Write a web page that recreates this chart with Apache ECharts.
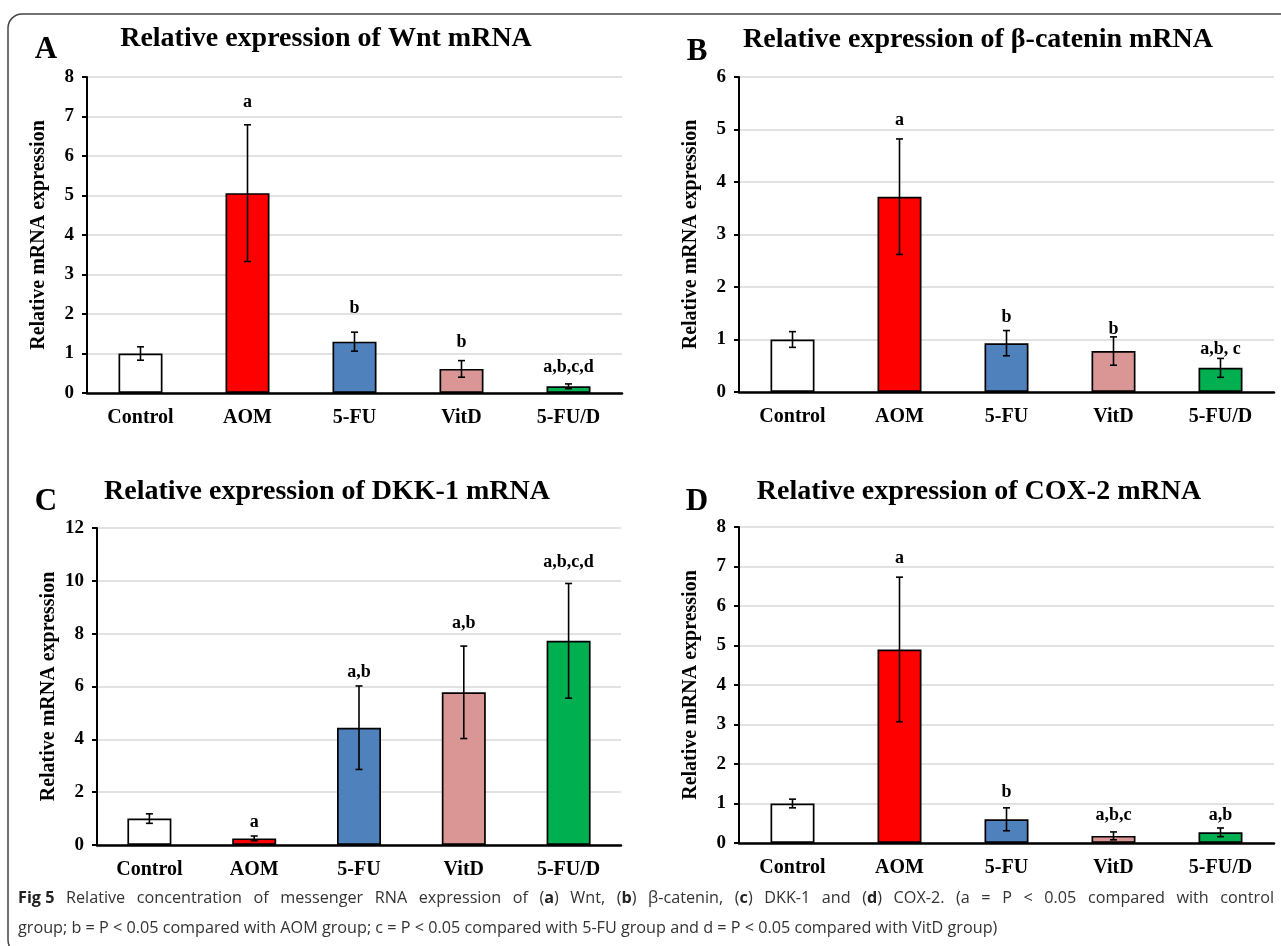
<!DOCTYPE html>
<html>
<head>
<meta charset="utf-8">
<script src="https://cdn.jsdelivr.net/npm/echarts@6/dist/echarts.min.js"></script>
<style>
html,body{margin:0;padding:0;background:#fff;}
#chart{width:1281px;height:946px;}
</style>
</head>
<body>
<div id="chart"></div>
<script>
// ---- data ----
const categories = ['Control', 'AOM', '5-FU', 'VitD', '5-FU/D'];
const barColors = ['#FFFFFF', '#FF0000', '#4F81BD', '#D99694', '#00B050'];

// A: Wnt
const wntMean = [1.00, 5.06, 1.30, 0.61, 0.17];
const wntErr  = [0.17, 1.73, 0.24, 0.21, 0.06];
const wntSig  = ['', 'a', 'b', 'b', 'a,b,c,d'];
const wntSigY = [null, 7.37, 2.15, 1.29, 0.66];
const wntTicks = {min: 0, max: 8, interval: 1};

// B: beta-catenin
const catMean = [1.00, 3.72, 0.93, 0.78, 0.46];
const catErr  = [0.15, 1.10, 0.24, 0.27, 0.18];
const catSig  = ['', 'a', 'b', 'b', 'a,b, c'];
const catSigY = [null, 5.18, 1.43, 1.20, 0.82];
const catTicks = {min: 0, max: 6, interval: 1};

// C: DKK-1
const dkkMean = [1.00, 0.25, 4.44, 5.78, 7.73];
const dkkErr  = [0.18, 0.09, 1.58, 1.75, 2.17];
const dkkSig  = ['', 'a', 'a,b', 'a,b', 'a,b,c,d'];
const dkkSigY = [null, 0.87, 6.55, 8.40, 10.70];
const dkkTicks = {min: 0, max: 12, interval: 2};

// D: COX-2
const coxMean = [1.00, 4.90, 0.60, 0.18, 0.27];
const coxErr  = [0.11, 1.83, 0.29, 0.10, 0.11];
const coxSig  = ['', 'a', 'b', 'a,b,c', 'a,b'];
const coxSigY = [null, 7.20, 1.27, 0.71, 0.71];
const coxTicks = {min: 0, max: 8, interval: 1};

const titles = ['Relative expression of Wnt mRNA', 'Relative expression of \u03b2-catenin mRNA',
                'Relative expression of DKK-1 mRNA', 'Relative expression of COX-2 mRNA'];
const panelLetters = ['A', 'B', 'C', 'D'];
const yName = 'Relative mRNA expression';

const captionLine1 = '{b|Fig 5} Relative concentration of messenger RNA expression of ({b|a}) Wnt, ({b|b}) \u03b2-catenin, ({b|c}) DKK-1 and ({b|d}) COX-2. (a = P < 0.05 compared with control';
const captionLine2 = 'group; b = P < 0.05 compared with AOM group; c = P < 0.05 compared with 5-FU group and d = P < 0.05 compared with VitD group)';

// ---- layout / style ----
const SERIF = '"Liberation Serif", "Times New Roman", serif';
const SANS = '"Open Sans"';
const CAP_SIZE = 16.2;
const grids = [
  {left: 87, top: 77, width: 535, height: 316},
  {left: 739, top: 77, width: 535, height: 315},
  {left: 97, top: 528, width: 524, height: 317},
  {left: 739, top: 527, width: 535, height: 316}
];
const titlePos = [[326, 39], [978, 40], [327, 492], [979, 492]];
const letterPos = [[46, 50], [697, 52], [46, 502], [697, 502]];

const panels = [
  [wntMean, wntErr, wntSig, wntSigY, wntTicks],
  [catMean, catErr, catSig, catSigY, catTicks],
  [dkkMean, dkkErr, dkkSig, dkkSigY, dkkTicks],
  [coxMean, coxErr, coxSig, coxSigY, coxTicks]
];

function errRenderer(sigs, sigYs) {
  return function (params, api) {
    const i = params.dataIndex;
    const x = api.value(0), m = api.value(1), e = api.value(2);
    const top = api.coord([x, m + e]);
    const bot = api.coord([x, m - e]);
    const cap = 3.5;
    const st = {stroke: '#000', lineWidth: 1.6};
    const children = [
      {type: 'line', shape: {x1: top[0], y1: top[1], x2: bot[0], y2: bot[1]}, style: st},
      {type: 'line', shape: {x1: top[0] - cap, y1: top[1], x2: top[0] + cap, y2: top[1]}, style: st},
      {type: 'line', shape: {x1: bot[0] - cap, y1: bot[1], x2: bot[0] + cap, y2: bot[1]}, style: st}
    ];
    if (sigs[i]) {
      const p = api.coord([x, sigYs[i]]);
      children.push({type: 'text', x: p[0], y: p[1],
        style: {text: sigs[i], align: 'center', verticalAlign: 'middle',
                font: 'bold 18px ' + SERIF, fill: '#000'}});
    }
    return {type: 'group', children: children};
  };
}

const xAxes = [], yAxes = [], series = [], graphics = [];
panels.forEach(function (p, k) {
  const [mean, err, sig, sigY, ticks] = p;
  xAxes.push({
    type: 'category', gridIndex: k, data: categories,
    axisLine: {lineStyle: {color: '#000', width: 2.5}},
    axisTick: {show: false},
    axisLabel: {color: '#000', fontFamily: SERIF, fontWeight: 'bold', fontSize: 20, margin: 15}
  });
  yAxes.push({
    type: 'value', gridIndex: k, min: ticks.min, max: ticks.max, interval: ticks.interval,
    name: yName, nameLocation: 'middle', nameGap: 38,
    nameTextStyle: {color: '#000', fontFamily: SERIF, fontWeight: 'bold', fontSize: 20},
    axisLine: {show: true, lineStyle: {color: '#000', width: 2}},
    axisTick: {show: true, length: 5, lineStyle: {color: '#000', width: 2}},
    axisLabel: {color: '#000', fontFamily: SERIF, fontWeight: 'bold', fontSize: 19, margin: 13},
    splitLine: {show: true, lineStyle: {color: '#d9d9d9', width: 1.5}}
  });
  series.push({
    type: 'bar', xAxisIndex: k, yAxisIndex: k, barWidth: 44,
    data: mean.map(function (v, i) { return {value: v, itemStyle: {color: barColors[i]}}; }),
    itemStyle: {borderColor: '#000', borderWidth: 1.7},
    silent: true, animation: false
  });
  series.push({
    type: 'custom', xAxisIndex: k, yAxisIndex: k, clip: false, z: 5,
    data: mean.map(function (v, i) { return [i, v, err[i]]; }),
    renderItem: errRenderer(sig, sigY), silent: true, animation: false
  });
  graphics.push({type: 'text', x: titlePos[k][0], y: titlePos[k][1],
    style: {text: titles[k], align: 'center', verticalAlign: 'middle',
            font: 'bold 28px ' + SERIF, fill: '#000'}});
  graphics.push({type: 'text', x: letterPos[k][0], y: letterPos[k][1],
    style: {text: panelLetters[k], align: 'center', verticalAlign: 'middle',
            font: 'bold 31px ' + SERIF, fill: '#000'}});
});

// frame
graphics.push({type: 'rect', shape: {x: 8, y: 14, width: 1300, height: 940, r: 14},
  style: {fill: 'none', stroke: '#444', lineWidth: 1.5}, z: -1});

// caption (first line justified like the source page)
const capRich = {b: {fontWeight: 'bold', fontFamily: SANS, fontSize: CAP_SIZE, fill: '#222'}};
const measureCtx = document.createElement('canvas').getContext('2d');
function tokenWidth(tok) {
  let w = 0;
  const re = /\{b\|([^}]*)\}/g;
  let last = 0, m;
  while ((m = re.exec(tok)) !== null) {
    measureCtx.font = CAP_SIZE + 'px ' + SANS;
    w += measureCtx.measureText(tok.slice(last, m.index)).width;
    measureCtx.font = 'bold ' + CAP_SIZE + 'px ' + SANS;
    w += measureCtx.measureText(m[1]).width;
    last = re.lastIndex;
  }
  measureCtx.font = CAP_SIZE + 'px ' + SANS;
  w += measureCtx.measureText(tok.slice(last)).width;
  return w;
}
const capLeft = 18, capRight = 1274;
const toks = captionLine1.match(/(?:\{[^}]*\}|[^\s{])+/g);
const widths = toks.map(tokenWidth);
const total = widths.reduce(function (a, b) { return a + b; }, 0);
const gap = (capRight - capLeft - total) / (toks.length - 1);
let cx = capLeft;
toks.forEach(function (t, i) {
  graphics.push({type: 'text', x: cx, y: 898,
    style: {text: t, rich: capRich, verticalAlign: 'middle', align: 'left',
            fontFamily: SANS, fontSize: CAP_SIZE, fill: '#333'}});
  cx += widths[i] + gap;
});
graphics.push({type: 'text', x: capLeft, y: 928,
  style: {text: captionLine2, rich: capRich, verticalAlign: 'middle', align: 'left',
          fontFamily: SANS, fontSize: CAP_SIZE, fill: '#333'}});

const chart = echarts.init(document.getElementById('chart'), null, {renderer: 'canvas'});
chart.setOption({
  backgroundColor: '#fff',
  animation: false,
  grid: grids.map(function (g) { return Object.assign({containLabel: false}, g); }),
  xAxis: xAxes,
  yAxis: yAxes,
  series: series,
  graphic: graphics
});
</script>
</body>
</html>
